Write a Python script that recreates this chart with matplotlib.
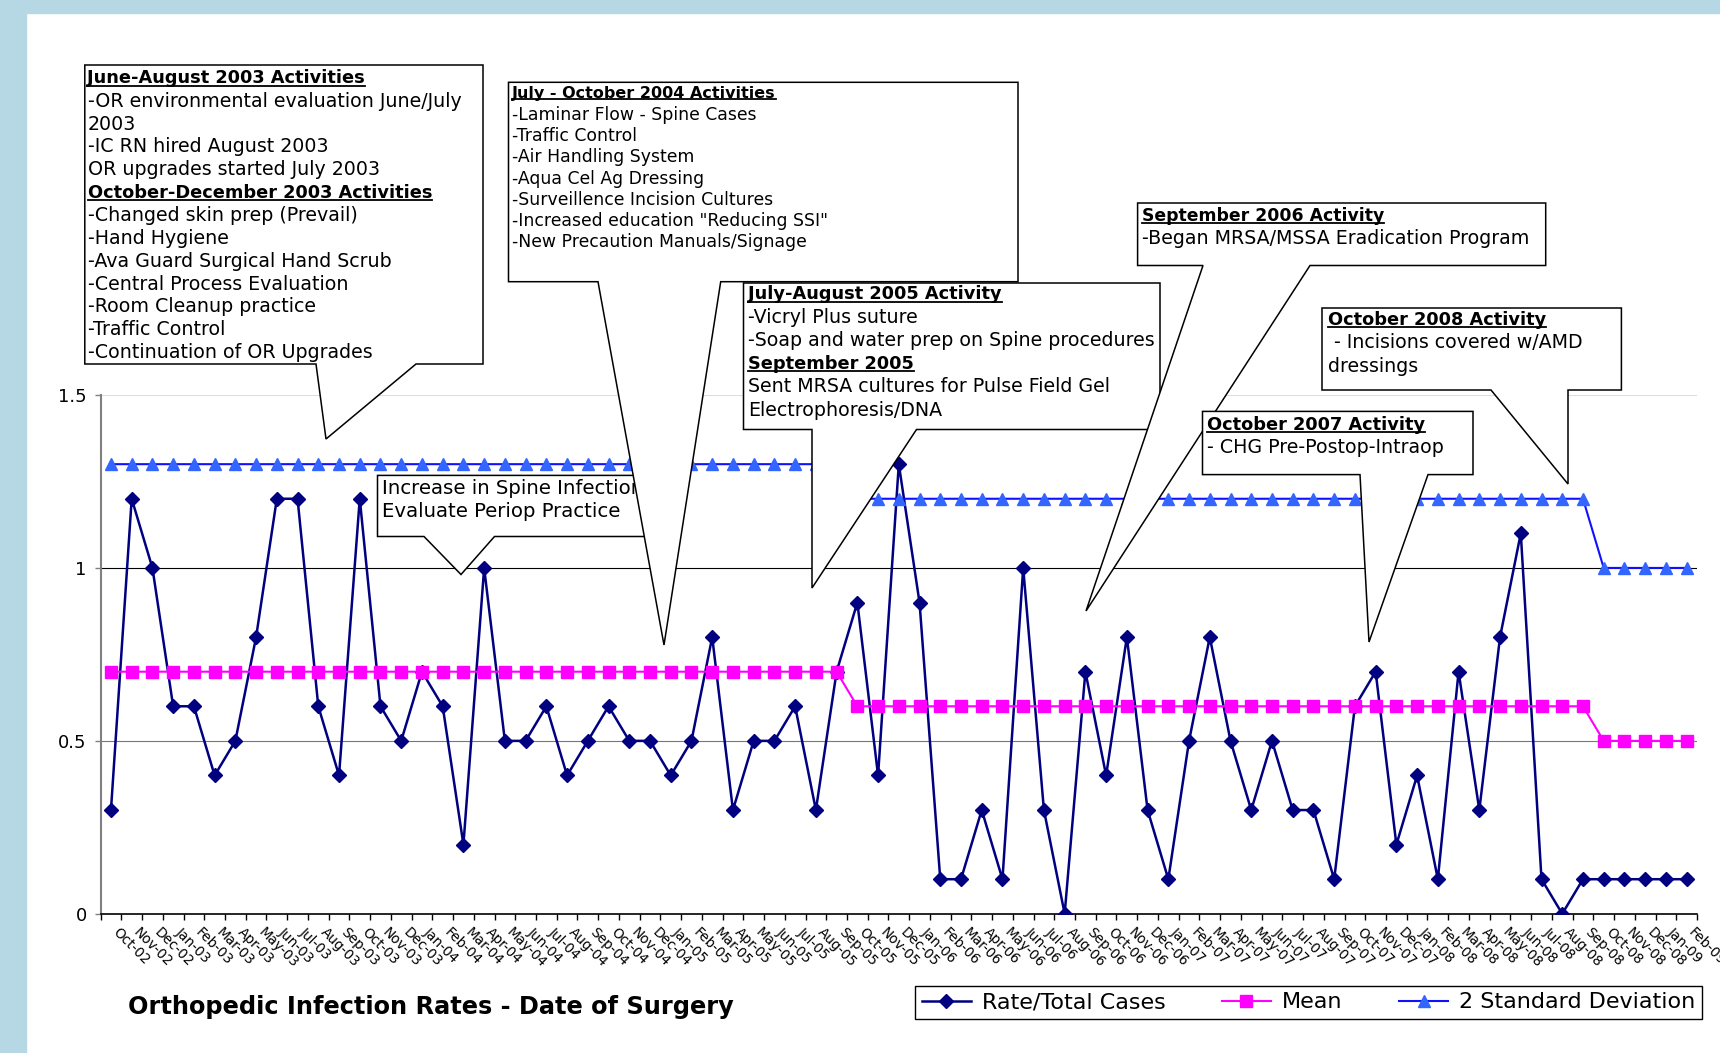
import matplotlib
matplotlib.use("Agg")
import matplotlib.pyplot as plt
from matplotlib.patches import Polygon, Rectangle
from matplotlib.lines import Line2D
from matplotlib.transforms import blended_transform_factory, ScaledTranslation

# month labels, Oct-02 .. Feb-09
months = ["Oct-02", "Nov-02", "Dec-02",
          "Jan-03", "Feb-03", "Mar-03", "Apr-03", "May-03", "Jun-03", "Jul-03", "Aug-03", "Sep-03", "Oct-03", "Nov-03", "Dec-03",
          "Jan-04", "Feb-04", "Mar-04", "Apr-04", "May-04", "Jun-04", "Jul-04", "Aug-04", "Sep-04", "Oct-04", "Nov-04", "Dec-04",
          "Jan-05", "Feb-05", "Mar-05", "Apr-05", "May-05", "Jun-05", "Jul-05", "Aug-05", "Sep-05", "Oct-05", "Nov-05", "Dec-05",
          "Jan-06", "Feb-06", "Mar-06", "Apr-06", "May-06", "Jun-06", "Jul-06", "Aug-06", "Sep-06", "Oct-06", "Nov-06", "Dec-06",
          "Jan-07", "Feb-07", "Mar-07", "Apr-07", "May-07", "Jun-07", "Jul-07", "Aug-07", "Sep-07", "Oct-07", "Nov-07", "Dec-07",
          "Jan-08", "Feb-08", "Mar-08", "Apr-08", "May-08", "Jun-08", "Jul-08", "Aug-08", "Sep-08", "Oct-08", "Nov-08", "Dec-08",
          "Jan-09", "Feb-09"]

rate = [0.3, 1.2, 1.0,
        0.6, 0.6, 0.4, 0.5, 0.8, 1.2, 1.2, 0.6, 0.4, 1.2, 0.6, 0.5,
        0.7, 0.6, 0.2, 1.0, 0.5, 0.5, 0.6, 0.4, 0.5, 0.6, 0.5, 0.5,
        0.4, 0.5, 0.8, 0.3, 0.5, 0.5, 0.6, 0.3, 0.7, 0.9, 0.4, 1.3,
        0.9, 0.1, 0.1, 0.3, 0.1, 1.0, 0.3, 0.0, 0.7, 0.4, 0.8, 0.3,
        0.1, 0.5, 0.8, 0.5, 0.3, 0.5, 0.3, 0.3, 0.1, 0.6, 0.7, 0.2,
        0.4, 0.1, 0.7, 0.3, 0.8, 1.1, 0.1, 0.0, 0.1, 0.1, 0.1, 0.1,
        0.1, 0.1]

mean = [0.7, 0.7, 0.7,
        0.7, 0.7, 0.7, 0.7, 0.7, 0.7, 0.7, 0.7, 0.7, 0.7, 0.7, 0.7,
        0.7, 0.7, 0.7, 0.7, 0.7, 0.7, 0.7, 0.7, 0.7, 0.7, 0.7, 0.7,
        0.7, 0.7, 0.7, 0.7, 0.7, 0.7, 0.7, 0.7, 0.7, 0.6, 0.6, 0.6,
        0.6, 0.6, 0.6, 0.6, 0.6, 0.6, 0.6, 0.6, 0.6, 0.6, 0.6, 0.6,
        0.6, 0.6, 0.6, 0.6, 0.6, 0.6, 0.6, 0.6, 0.6, 0.6, 0.6, 0.6,
        0.6, 0.6, 0.6, 0.6, 0.6, 0.6, 0.6, 0.6, 0.6, 0.5, 0.5, 0.5,
        0.5, 0.5]

sd2 = [1.3, 1.3, 1.3,
       1.3, 1.3, 1.3, 1.3, 1.3, 1.3, 1.3, 1.3, 1.3, 1.3, 1.3, 1.3,
       1.3, 1.3, 1.3, 1.3, 1.3, 1.3, 1.3, 1.3, 1.3, 1.3, 1.3, 1.3,
       1.3, 1.3, 1.3, 1.3, 1.3, 1.3, 1.3, 1.3, 1.3, 1.2, 1.2, 1.2,
       1.2, 1.2, 1.2, 1.2, 1.2, 1.2, 1.2, 1.2, 1.2, 1.2, 1.2, 1.2,
       1.2, 1.2, 1.2, 1.2, 1.2, 1.2, 1.2, 1.2, 1.2, 1.2, 1.2, 1.2,
       1.2, 1.2, 1.2, 1.2, 1.2, 1.2, 1.2, 1.2, 1.2, 1.0, 1.0, 1.0,
       1.0, 1.0]

series_names = ["Rate/Total Cases", "Mean", "2 Standard Deviation"]
title = "Orthopedic Infection Rates - Date of Surgery"

# callout texts: (text, is_header)
notes_2003 = [("June-August 2003 Activities", True),
              ("-OR environmental evaluation June/July", False),
              ("2003", False),
              ("-IC RN hired August 2003", False),
              ("OR upgrades started July 2003", False),
              ("October-December 2003 Activities", True),
              ("-Changed skin prep (Prevail)", False),
              ("-Hand Hygiene", False),
              ("-Ava Guard Surgical Hand Scrub", False),
              ("-Central Process Evaluation", False),
              ("-Room Cleanup practice", False),
              ("-Traffic Control", False),
              ("-Continuation of OR Upgrades", False)]
notes_2004 = [("July - October 2004 Activities", True),
              ("-Laminar Flow - Spine Cases", False),
              ("-Traffic Control", False),
              ("-Air Handling System", False),
              ("-Aqua Cel Ag Dressing", False),
              ("-Surveillence Incision Cultures", False),
              ("-Increased education \"Reducing SSI\"", False),
              ("-New Precaution Manuals/Signage", False)]
notes_2005 = [("July-August 2005 Activity", True),
              ("-Vicryl Plus suture", False),
              ("-Soap and water prep on Spine procedures", False),
              ("September 2005", True),
              ("Sent MRSA cultures for Pulse Field Gel", False),
              ("Electrophoresis/DNA", False)]
notes_2006 = [("September 2006 Activity", True),
              ("-Began MRSA/MSSA Eradication Program", False)]
notes_2007 = [("October 2007 Activity", True),
              ("- CHG Pre-Postop-Intraop", False)]
notes_2008 = [("October 2008 Activity", True),
              (" - Incisions covered w/AMD", False),
              ("dressings", False)]
notes_spine = [("Increase in Spine Infection", False),
               ("Evaluate Periop Practice", False)]

W, H = 1720, 1053
fig = plt.figure(figsize=(W / 100, H / 100), dpi=100)
fig.patch.set_facecolor("white")
band = "#b5d8e4"
fig.patches.append(Rectangle((0, 1 - 13 / H), 1, 13 / H, transform=fig.transFigure, color=band, zorder=0))
fig.patches.append(Rectangle((0, 0), 26 / W, 1, transform=fig.transFigure, color=band, zorder=0))

ax = fig.add_axes([100.6 / W, 139.2 / H, 1596.4 / W, 518.8 / H])
x = list(range(len(months)))

l1, = ax.plot(x, rate, color="#000080", lw=1.8, marker="D", ms=6.8, mec="#000080", mfc="#000080", zorder=3)
l2, = ax.plot(x, mean, color="#ff00ff", lw=1.5, marker="s", ms=8.5, mec="#ff00ff", mfc="#ff00ff", zorder=4)
l3, = ax.plot(x, sd2, color="#1010ff", lw=1.5, marker="^", ms=9, mec="#3366ff", mfc="#3366ff", zorder=5)

ax.set_xlim(-0.5, len(months) - 0.5)
ax.set_ylim(0, 1.5)
ax.axhline(1.0, color="black", lw=0.8, zorder=1)
ax.axhline(0.5, color="#777777", lw=0.8, zorder=1)
ax.axhline(1.5, color="#dddddd", lw=0.8, zorder=1)

for s in ["top", "right"]:
    ax.spines[s].set_visible(False)
ax.spines["left"].set_color("#808080")
ax.spines["left"].set_linewidth(1.5)
ax.spines["bottom"].set_color("black")
ax.spines["bottom"].set_linewidth(1.2)

ax.set_yticks([0, 0.5, 1.0, 1.5])
ax.set_yticklabels(["0", "0.5", "1", "1.5"])
ax.tick_params(axis="y", length=4, width=1, color="#808080", pad=6, labelsize=13)
ax.set_xticks(x)
ax.set_xticklabels([])
ax.tick_params(axis="x", which="major", length=0)
ax.set_xticks([i - 0.5 for i in range(len(months) + 1)], minor=True)
ax.tick_params(axis="x", which="minor", length=4, width=1, color="black")

# rotated month labels
lab_tr = blended_transform_factory(ax.transData, ax.transAxes) + ScaledTranslation(0.09, -0.11, fig.dpi_scale_trans)
for i, m in enumerate(months):
    ax.text(i, 0, m, transform=lab_tr, rotation=-45, rotation_mode="anchor",
            ha="left", va="top", fontsize=9.8, clip_on=False)


def fx(px):
    return px / W


def fy(py):
    return 1 - py / H


def callout(box, wedge, tip, lines, x0, y0, step, size, z, hscale=0.93):
    L, T, R, B = box
    w1, w2 = wedge
    pts = [(L, T), (R, T), (R, B), (w2, B), tip, (w1, B), (L, B)]
    ax.add_patch(Polygon([(fx(a), fy(b)) for a, b in pts], closed=True, transform=fig.transFigure,
                         fc="white", ec="black", lw=1.1, zorder=z, clip_on=False))
    out = []
    for k, (txt, head) in enumerate(lines):
        t = ax.text(fx(x0), fy(y0 + k * step), txt, transform=fig.transFigure,
                    fontsize=size * hscale if head else size,
                    fontweight="bold" if head else "normal", ha="left", va="center",
                    zorder=z + 0.5, clip_on=False)
        out.append((t, head, z + 0.5))
    return out


texts = []
texts += callout((377.5, 475.4, 665, 536.5), (424, 494.5), (461, 574.5), notes_spine, 382, 489, 22.4, 14.2, 10)
texts += callout((84.8, 65, 483, 364), (316, 416), (326, 439), notes_2003, 87.5, 78.3, 22.87, 13.7, 11)
texts += callout((508.5, 82.3, 1018, 281.7), (598, 720.7), (664, 645), notes_2004, 512, 93.3, 21.3, 12.4, 12)
texts += callout((743.5, 283, 1160, 429.5), (812, 916.5), (812, 588), notes_2005, 748, 294, 23.2, 13.7, 13)
texts += callout((1137.6, 203, 1545.7, 265.5), (1203, 1310), (1086, 611), notes_2006, 1142, 216, 23, 13.7, 14, 0.91)
texts += callout((1202.5, 411.4, 1473, 474.6), (1360, 1428), (1369, 642), notes_2007, 1207, 424.6, 23.3, 13.7, 15)
texts += callout((1322, 308, 1621.4, 390), (1491, 1568), (1568, 484), notes_2008, 1328, 320, 23, 13.7, 16)

# underline the header lines
fig.canvas.draw()
rend = fig.canvas.get_renderer()
inv = fig.transFigure.inverted()
for t, head, z in texts:
    if head:
        bb = t.get_window_extent(rend).transformed(inv)
        ax.add_line(Line2D([bb.x0, bb.x1], [bb.y0 + 1.5 / H, bb.y0 + 1.5 / H], transform=fig.transFigure,
                           color="black", lw=1.3, zorder=z, clip_on=False))

fig.text(fx(128), fy(1007), title, fontsize=17.3, fontweight="bold", ha="left", va="center")

leg = fig.legend([l1, l2, l3], series_names, loc="center",
                 bbox_to_anchor=(fx(915), fy(1021), (1702 - 915) / W, (1021 - 984) / H),
                 bbox_transform=fig.transFigure, mode="expand", ncol=3, fontsize=16,
                 handlelength=2.2, handletextpad=0.5, borderaxespad=0, borderpad=0.3,
                 frameon=True, fancybox=False, edgecolor="black", framealpha=1)
leg.get_frame().set_linewidth(1.0)

fig.savefig("out.png", dpi=100)
